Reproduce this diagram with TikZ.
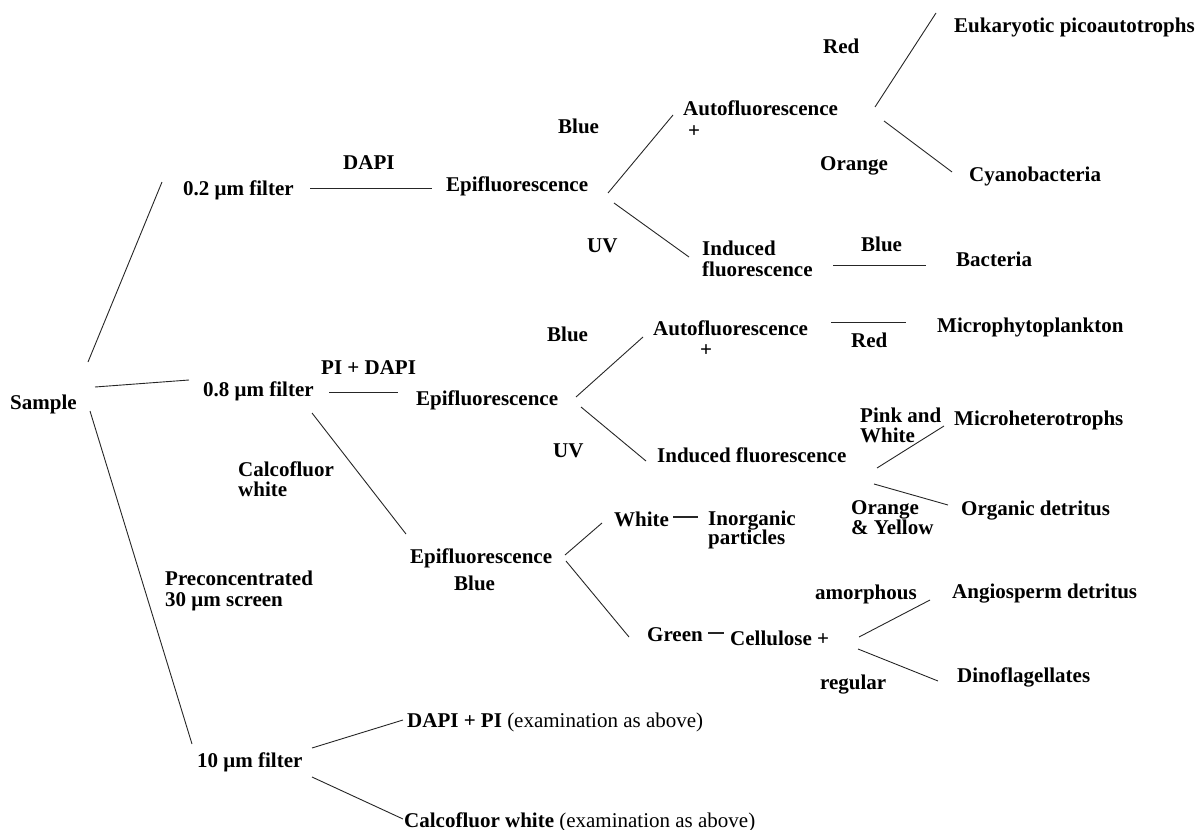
\documentclass[tikz,border=0pt]{standalone}
\usepackage{fontspec}
\setmainfont{Liberation Serif}
\begin{document}
\begin{tikzpicture}[x=1pt,y=-1pt,
  t/.style={anchor=base west, inner sep=0pt, font=\fontsize{21}{21}\selectfont\bfseries},
  ln/.style={line width=0.9pt, black!85}]
\useasboundingbox (0,0) rectangle (1203,830);
% ---------- text nodes ----------
\node[t] (sample) at (10,409) {Sample};
\node[t] (f02) at (183,195) {0.2 μm filter};
\node[t] (dapi) at (343,169) {DAPI};
\node[t] (epi1) at (446,191) {Epifluorescence};
\node[t] (blue1) at (558,133) {Blue};
\node[t] (uv1) at (587,252) {UV};
\node[t] (auto1) at (683,115) {Autofluorescence};
\node[t] (plus1) at (688,137) {+};
\node[t] (red1) at (823,53) {Red};
\node[t] (euk) at (954,32) {Eukaryotic picoautotrophs};
\node[t] (orange1) at (820,170) {Orange};
\node[t] (cyano) at (969,181) {Cyanobacteria};
\node[t] (ind1a) at (702,255) {Induced};
\node[t] (ind1b) at (702,276) {fluorescence};
\node[t] (blue2) at (861,251) {Blue};
\node[t] (bact) at (956,266) {Bacteria};
\node[t] (f08) at (203,396) {0.8 μm filter};
\node[t] (pidapi) at (321,374) {PI + DAPI};
\node[t] (epi2) at (416,405) {Epifluorescence};
\node[t] (blue3) at (547,341) {Blue};
\node[t] (uv2) at (553,457) {UV};
\node[t] (auto2) at (653,335) {Autofluorescence};
\node[t] (plus2) at (700,356) {+};
\node[t] (red2) at (851,347) {Red};
\node[t] (micro) at (937,332) {Microphytoplankton};
\node[t] (ind2) at (657,462) {Induced fluorescence};
\node[t] (pinka) at (860,422) {Pink and};
\node[t] (pinkb) at (860,442) {White};
\node[t] (microhet) at (954,425) {Microheterotrophs};
\node[t] (orange2a) at (851,514) {Orange};
\node[t] (orange2b) at (851,534) {\& Yellow};
\node[t] (orgdet) at (961,515) {Organic detritus};
\node[t] (calcoa) at (238,476) {Calcofluor};
\node[t] (calcob) at (238,496) {white};
\node[t] (epi3) at (410,563) {Epifluorescence};
\node[t] (blue4) at (454,590) {Blue};
\node[t] (white) at (614,526) {White};
\node[t] (inorga) at (708,525) {Inorganic};
\node[t] (inorgb) at (708,544) {particles};
\node[t] (green) at (647,641) {Green};
\node[t] (cell) at (730,645) {Cellulose +};
\node[t] (amorph) at (815,599) {amorphous};
\node[t] (angio) at (952,598) {Angiosperm detritus};
\node[t] (regular) at (820,689) {regular};
\node[t] (dino) at (957,682) {Dinoflagellates};
\node[t] (precona) at (165,585) {Preconcentrated};
\node[t] (preconb) at (165,606) {30 μm screen};
\node[t] (f10) at (197,767) {10 μm filter};
\node[t] (dapipi) at (407,727) {DAPI + PI {\mdseries (examination as above)}};
\node[t] (calcowh) at (404,827) {Calcofluor white {\mdseries (examination as above)}};
% ---------- connector end points ----------
\coordinate (s1) at (88,362);   \coordinate (f02w) at (162,182);
\coordinate (s2) at (95,387);   \coordinate (f08w) at (189,380);
\coordinate (s3) at (90,411);   \coordinate (f10n) at (192,744);
\coordinate (f02e) at (310,188); \coordinate (epi1w) at (432,188);
\coordinate (epi1a) at (608,193); \coordinate (auto1w) at (673,115);
\coordinate (epi1b) at (614,203); \coordinate (ind1w) at (689,257);
\coordinate (auto1a) at (875,107); \coordinate (eukw) at (936,13);
\coordinate (auto1b) at (884,121); \coordinate (cyanow) at (952,172);
\coordinate (ind1e) at (833,265); \coordinate (bactw) at (926,265);
\coordinate (f08e) at (329,392); \coordinate (epi2w) at (398,392);
\coordinate (f08s) at (312,413); \coordinate (epi3n) at (406,534);
\coordinate (epi2a) at (576,397); \coordinate (auto2w) at (643,337);
\coordinate (epi2b) at (581,407); \coordinate (ind2w) at (646,461);
\coordinate (auto2e) at (831,322); \coordinate (microw) at (906,322);
\coordinate (ind2a) at (877,468); \coordinate (microhetw) at (944,426);
\coordinate (ind2b) at (874,484); \coordinate (orgdetw) at (948,505);
\coordinate (epi3a) at (565,555); \coordinate (whitew) at (602,523);
\coordinate (epi3b) at (566,561); \coordinate (greenw) at (629,637);
\coordinate (whitee) at (673,517); \coordinate (inorgw) at (698,517);
\coordinate (greene) at (708,633); \coordinate (cellw) at (724,633);
\coordinate (cella) at (859,637); \coordinate (angiow) at (930,600);
\coordinate (cellb) at (858,649); \coordinate (dinow) at (938,681);
\coordinate (f10a) at (312,748); \coordinate (dapipiw) at (403,720);
\coordinate (f10b) at (312,777); \coordinate (calcowhw) at (403,819);
% ---------- connectors ----------
\draw[ln] (s1) -- (f02w);
\draw[ln] (s2) -- (f08w);
\draw[ln] (s3) -- (f10n);
\draw[ln] (f02e) -- (epi1w);
\draw[ln] (epi1a) -- (auto1w);
\draw[ln] (epi1b) -- (ind1w);
\draw[ln] (auto1a) -- (eukw);
\draw[ln] (auto1b) -- (cyanow);
\draw[ln] (ind1e) -- (bactw);
\draw[ln] (f08e) -- (epi2w);
\draw[ln] (f08s) -- (epi3n);
\draw[ln] (epi2a) -- (auto2w);
\draw[ln] (epi2b) -- (ind2w);
\draw[ln] (auto2e) -- (microw);
\draw[ln] (ind2a) -- (microhetw);
\draw[ln] (ind2b) -- (orgdetw);
\draw[ln] (epi3a) -- (whitew);
\draw[ln] (epi3b) -- (greenw);
\draw[ln, line width=1.4pt] (whitee) -- (inorgw);
\draw[ln, line width=1.2pt] (greene) -- (cellw);
\draw[ln] (cella) -- (angiow);
\draw[ln] (cellb) -- (dinow);
\draw[ln] (f10a) -- (dapipiw);
\draw[ln] (f10b) -- (calcowhw);
\end{tikzpicture}
\end{document}
